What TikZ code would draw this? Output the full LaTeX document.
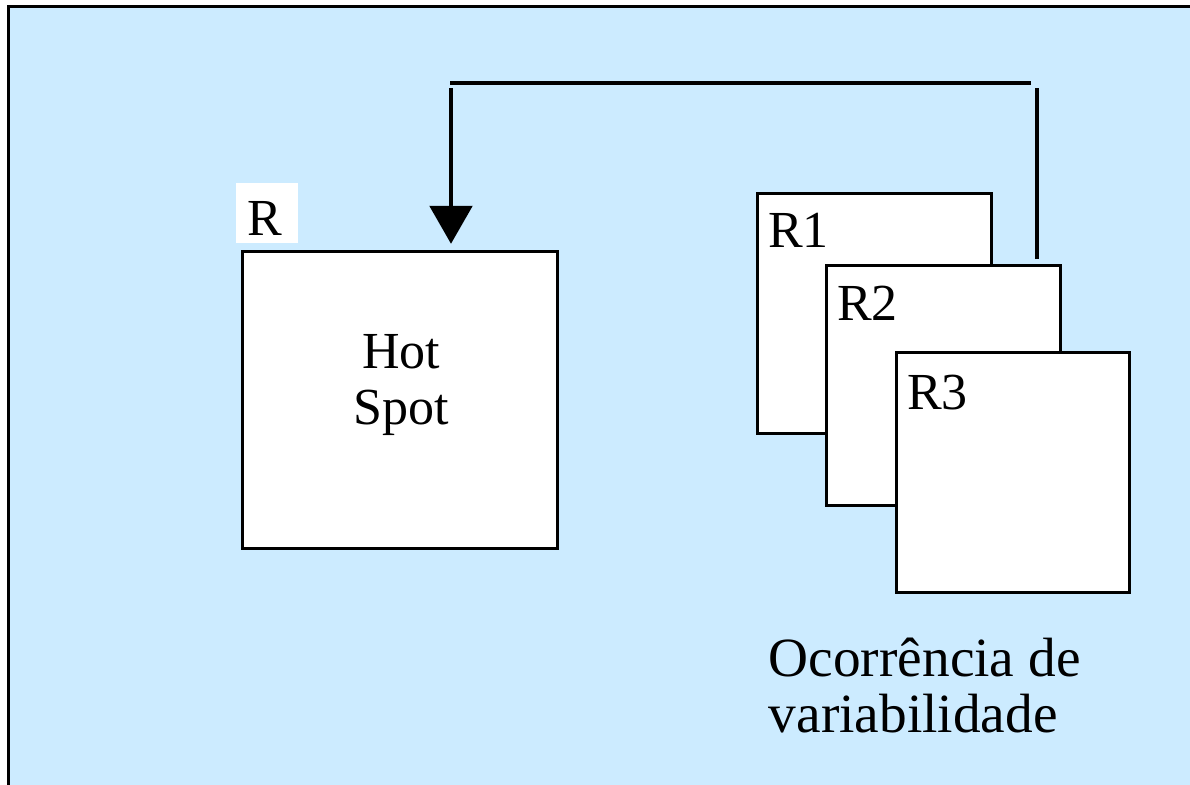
\documentclass[tikz,border=0pt]{standalone}
\usepackage{fontspec}
\setmainfont{Liberation Serif}
\usetikzlibrary{arrows.meta}
\definecolor{skyfill}{RGB}{204,235,255}
\begin{document}
\begin{tikzpicture}[x=0.75pt, y=-0.75pt,
  box/.style={draw, fill=white, line width=2.25pt, inner sep=0pt},
  txt/.style={font=\fontsize{39}{42}\selectfont, inner sep=0pt},
  link/.style={line width=2.6pt}]
  \useasboundingbox (0,0) rectangle (1190,785);
  \fill[skyfill] (8.5,6.5) rectangle (1190,785);
  \draw[line width=2.5pt] (8.5,785) -- (8.5,6.5) -- (1190,6.5);
  % hot spot region
  \node[box, minimum width=236.25pt, minimum height=222.75pt] (hot) at (400.25,399.75) {};
  \node[txt, align=center] (hottxt) at (401,385.5) {Hot\\Spot};
  \node[fill=white, minimum width=46.5pt, minimum height=45pt, inner sep=0pt] (rtag) at (267,213) {};
  \node[txt, anchor=base west] (rtxt) at (247,235) {R};
  % replicas
  \node[box, minimum width=175pt, minimum height=180pt] (r1) at (874.5,313.5) {};
  \node[txt, anchor=base west] (r1txt) at (768,247) {R1};
  \node[box, minimum width=175pt, minimum height=180pt] (r2) at (943.5,385.25) {};
  \node[txt, anchor=base west] (r2txt) at (837,320) {R2};
  \node[box, minimum width=175pt, minimum height=180pt] (r3) at (1013,472) {};
  \node[txt, anchor=base west] (r3txt) at (907,409) {R3};
  \node[txt, font=\fontsize{41.5}{42}\selectfont, align=left, anchor=west] (vartxt) at (768.5,686) {Ocorrência de\\variabilidade};
  % feedback line
  \coordinate (up1) at (1037,88);
  \coordinate (tr) at (1031,83);
  \coordinate (tl) at (450,83);
  \coordinate (dn1) at (451,88);
  \draw[link, shorten <=3.5pt] (up1 |- r2.north) -- (up1);
  \draw[link] (tr) -- (tl);
  \draw[link, -{Triangle[width=32pt, length=28.5pt]}, shorten >=4.5pt] (dn1) -- (dn1 |- hot.north);
\end{tikzpicture}
\end{document}
